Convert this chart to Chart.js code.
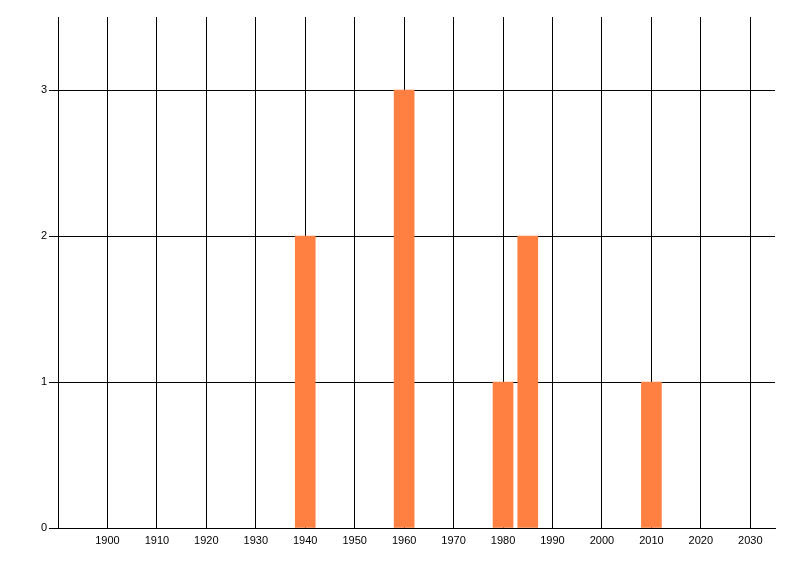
<!DOCTYPE html>
<html>
<head>
<meta charset="utf-8">
<script src="https://cdn.jsdelivr.net/npm/chart.js@4"></script>
<style>
  html, body { margin: 0; padding: 0; background: #fff; }
  #wrap { width: 800px; height: 576px; position: relative; }
</style>
</head>
<body>
<div id="wrap"><canvas id="chart"></canvas></div>
<script>
// valeurs
var years = [1940, 1960, 1980, 1985, 2010];
var counts = [2, 3, 1, 2, 1];
var xTicks = [1900, 1910, 1920, 1930, 1940, 1950, 1960, 1970, 1980, 1990, 2000, 2010, 2020, 2030];
var yTicks = [0, 1, 2, 3];

var points = years.map(function (y, i) { return { x: y, y: counts[i] }; });

var font = { family: 'Liberation Sans', size: 11 };

var ctx = document.getElementById('chart').getContext('2d');
var chart = new Chart(ctx, {
  type: 'bar',
  data: {
    datasets: [{
      data: points,
      backgroundColor: '#ff8040',
      borderWidth: 0,
      barThickness: 20
    }]
  },
  options: {
    responsive: true,
    maintainAspectRatio: false,
    animation: false,
    layout: { padding: { top: 17, right: 25, left: 0, bottom: 0 } },
    plugins: { legend: { display: false }, tooltip: { enabled: false } },
    scales: {
      x: {
        type: 'linear',
        min: 1890,
        max: 2035,
        offset: false,
        afterBuildTicks: function (s) { s.ticks = xTicks.map(function (v) { return { value: v }; }); },
        afterFit: function (s) { s.height = 48; },
        grid: { color: '#000', lineWidth: 1, drawTicks: false, offset: false },
        border: { display: true, color: '#000', width: 1 },
        ticks: { color: '#000', font: font, padding: 6, maxRotation: 0, autoSkip: false,
                 callback: function (v) { return String(v); } }
      },
      y: {
        min: 0,
        max: 3.5,
        afterBuildTicks: function (s) { s.ticks = yTicks.map(function (v) { return { value: v }; }); },
        afterFit: function (s) { s.width = 58; },
        grid: { color: '#000', lineWidth: 1, drawTicks: true, tickLength: 9 },
        border: { display: true, color: '#000', width: 1 },
        ticks: { color: '#000', font: font, padding: 2, autoSkip: false }
      }
    }
  }
});
</script>
</body>
</html>
